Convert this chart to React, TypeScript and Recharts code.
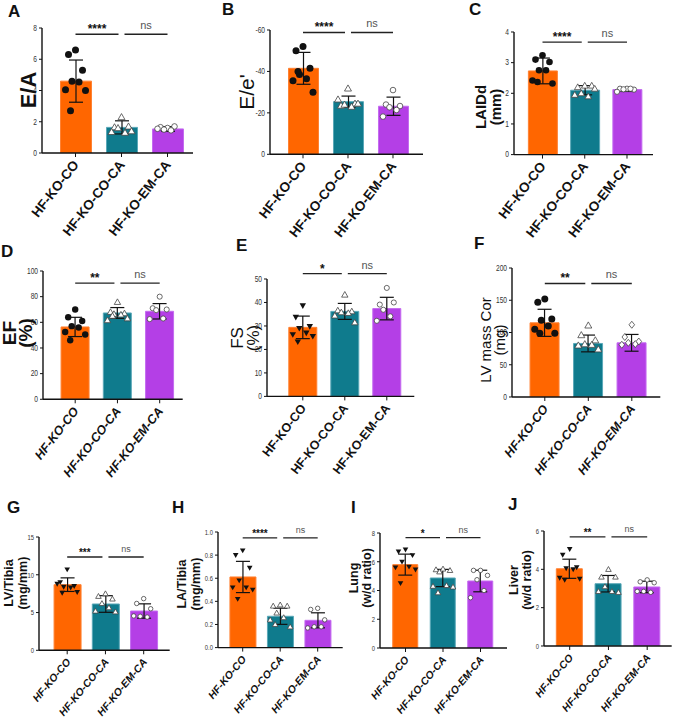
import React from 'react'
import { ComposedChart, Bar, Cell, Scatter, XAxis, YAxis, ErrorBar, ReferenceLine } from 'recharts'

const groups = ['HF-KO-CO', 'HF-KO-CO-CA', 'HF-KO-EM-CA']
const groupFill = ['#FF6600', '#0F7B8D', '#B43FE6']
const groupEdge = ['#FF8233', '#5AA8B8', '#C46BF0']

// A  E/A
const eaMean = [4.6, 1.64, 1.54]
const eaSd = [1.35, 0.42, 0.15]
const eaCo = [6.6, 6.3, 5.3, 4.6, 4.55, 4.05, 4.0, 2.7]
const eaCoCa = [2.3, 1.65, 1.7, 1.6, 1.3, 1.35, 1.4]
const eaEmCa = [1.6, 1.65, 1.7, 1.5, 1.45, 1.55]
const eaTicks = [0, 2, 4, 6, 8]

// B  E/e'
const eeMean = [-41.5, -25.4, -23.2]
const eeSd = [7.7, 2.7, 4.4]
const eeCo = [-52, -50, -41.5, -38.5, -36.5, -35.5, -30, -40]
const eeCoCa = [-31.8, -23.5, -24.5, -24, -23, -26.5, -24.5]
const eeEmCa = [-31, -24, -23.3, -22.7, -21.4, -18.2]
const eeTicks = [-60, -40, -20, 0]

// C  LAIDd
const laiMean = [2.73, 2.1, 2.12]
const laiSd = [0.42, 0.15, 0.06]
const laiCo = [3.24, 3.1, 3.02, 2.75, 2.75, 2.42, 2.32, 2.37]
const laiCoCa = [2.25, 2.2, 2.25, 2.0, 1.9, 1.95, 2.15]
const laiEmCa = [2.15, 2.15, 2.12, 2.13, 2.15, 2.05]
const laiTicks = [0, 1, 2, 3, 4]

// D  EF
const efMean = [56.4, 67.3, 68.6]
const efSd = [7.5, 4.2, 6.0]
const efCo = [70, 64, 61, 57, 56, 52.5, 50.5, 46]
const efCoCa = [75.8, 68, 67, 66.5, 66, 61.6, 63, 65]
const efEmCa = [80, 71, 70, 69.5, 63, 62.5]
const efTicks = [0, 20, 40, 60, 80, 100]

// E  FS
const fsMean = [29.4, 36.2, 37.4]
const fsSd = [4.8, 3.4, 4.8]
const fsCo = [38.6, 33.7, 29.8, 29, 27, 26.3, 25.6, 23.2]
const fsCoCa = [43.3, 36.6, 36.2, 35.8, 35.5, 34.4, 31.5]
const fsEmCa = [46.2, 39.1, 40, 36.9, 34.1, 32.2]
const fsTicks = [0, 10, 20, 30, 40, 50]

// F  LV mass Cor
const lvmMean = [115, 83, 84]
const lvmSd = [21, 13, 13]
const lvmCo = [152, 147, 121, 119, 110, 105, 99, 99]
const lvmCoCa = [111, 96, 88, 82, 81, 80, 74]
const lvmEmCa = [112, 93, 86, 84, 82, 81]
const lvmTicks = [0, 50, 100, 150, 200]

// G  LV/Tibia
const lvtMean = [8.69, 6.13, 5.2]
const lvtSd = [0.9, 1.1, 0.95]
const lvtCo = [10.7, 9.0, 8.5, 8.4, 8.3, 8.8, 7.7, 7.6]
const lvtCoCa = [7.5, 7.15, 6.8, 6.2, 5.65, 5.2, 5.1]
const lvtEmCa = [6.84, 6.2, 5.5, 4.5, 4.4, 4.55]
const lvtTicks = [0, 5, 10, 15]

// H  LA/Tibia
const latMean = [0.611, 0.271, 0.236]
const latSd = [0.135, 0.07, 0.065]
const latCo = [0.84, 0.8, 0.69, 0.58, 0.52, 0.52, 0.5, 0.42]
const latCoCa = [0.37, 0.36, 0.36, 0.3, 0.26, 0.24, 0.18, 0.2]
const latEmCa = [0.34, 0.33, 0.24, 0.18, 0.18, 0.17]
const latTicks = [0, 0.2, 0.4, 0.6, 0.8, 1.0]

// I  Lung
const lungMean = [5.8, 4.87, 4.66]
const lungSd = [0.73, 0.6, 0.75]
const lungCo = [6.84, 6.7, 6.45, 6.0, 5.65, 5.6, 5.45, 4.5]
const lungCoCa = [5.5, 5.45, 5.4, 5.3, 4.35, 4.3, 4.25, 3.85]
const lungEmCa = [5.4, 5.4, 5.05, 4.75, 4.0, 3.5]
const lungTicks = [0, 2, 4, 6, 8]

// J  Liver
const livMean = [4.03, 3.25, 3.08]
const livSd = [0.5, 0.43, 0.3]
const livCo = [5.05, 4.75, 4.1, 4.05, 4.0, 3.55, 3.5, 3.45]
const livCoCa = [4.0, 3.6, 3.6, 3.1, 2.85, 2.85, 2.8]
const livEmCa = [3.45, 3.35, 3.3, 2.85, 2.8, 2.85]
const livTicks = [0, 2, 4, 6]

const SANS = '"Liberation Sans", Arial, sans-serif'
const Y_W = 60
const TOP = 30
const X_H = 95
// horizontal spread of dots, px
const spread = [0, -7, 7, -3.5, 3.5, -10, 10, -5, 5]

type Spec = {
  axisX: number; xEnd: number; topY: number; zeroY: number
  centers: number[]; barW: number
  mean: number[]; sd: number[]; pts: number[][]
  ticks: number[]; yMin: number; yMax: number; reversed?: boolean
  sigY: number; sig: string[]
  coMark: 'circle' | 'tri'; emMark?: 'circle' | 'diamond'
  xfs: number; italic: boolean; yfs: number; sigFs: number; dot: number; angle: number
  fmt?: (v: number) => string
}

const panels: Spec[] = [
  { axisX: 42, xEnd: 193, topY: 28.3, zeroY: 153.3, centers: [75.5, 121.5, 167.5], barW: 31,
    mean: eaMean, sd: eaSd, pts: [eaCo, eaCoCa, eaEmCa], ticks: eaTicks, yMin: 0, yMax: 8,
    sigY: 7.6, sig: ['****', 'ns'], coMark: 'circle', xfs: 13.5, italic: false, yfs: 8.5, sigFs: 12, dot: 3.5, angle: -52 },
  { axisX: 270, xEnd: 423, topY: 30, zeroY: 154.3, centers: [303, 348, 393], barW: 30,
    mean: eeMean, sd: eeSd, pts: [eeCo, eeCoCa, eeEmCa], ticks: eeTicks, yMin: -60, yMax: 0, reversed: true,
    sigY: -58.8, sig: ['****', 'ns'], coMark: 'circle', xfs: 13.5, italic: false, yfs: 8.5, sigFs: 12, dot: 3.5, angle: -52 },
  { axisX: 514, xEnd: 653, topY: 31.7, zeroY: 154.3, centers: [542.5, 584.5, 627], barW: 29,
    mean: laiMean, sd: laiSd, pts: [laiCo, laiCoCa, laiEmCa], ticks: laiTicks, yMin: 0, yMax: 4,
    sigY: 3.67, sig: ['****', 'ns'], coMark: 'circle', xfs: 13.5, italic: false, yfs: 8.5, sigFs: 12, dot: 3.3, angle: -52 },
  { axisX: 43.3, xEnd: 183, topY: 270.7, zeroY: 399, centers: [75.5, 118, 160], barW: 28,
    mean: efMean, sd: efSd, pts: [efCo, efCoCa, efEmCa], ticks: efTicks, yMin: 0, yMax: 100,
    sigY: 90.6, sig: ['**', 'ns'], coMark: 'circle', xfs: 12.5, italic: true, yfs: 8.5, sigFs: 12, dot: 3.2, angle: -52 },
  { axisX: 266.7, xEnd: 414, topY: 279.3, zeroY: 396.7, centers: [302.5, 344.5, 386.5], barW: 28,
    mean: fsMean, sd: fsSd, pts: [fsCo, fsCoCa, fsEmCa], ticks: fsTicks, yMin: 0, yMax: 50,
    sigY: 52.3, sig: ['*', 'ns'], coMark: 'tri', xfs: 12.5, italic: false, yfs: 8.5, sigFs: 12, dot: 3.2, angle: -52 },
  { axisX: 511.7, xEnd: 660, topY: 267.7, zeroY: 396.7, centers: [544.5, 587.5, 631.5], barW: 29,
    mean: lvmMean, sd: lvmSd, pts: [lvmCo, lvmCoCa, lvmEmCa], ticks: lvmTicks, yMin: 0, yMax: 200,
    sigY: 176, sig: ['**', 'ns'], coMark: 'circle', emMark: 'diamond', xfs: 12.5, italic: true, yfs: 8.5, sigFs: 12, dot: 3.5, angle: -52 },
  { axisX: 39.3, xEnd: 170, topY: 536.7, zeroY: 650, centers: [67.5, 106, 144], barW: 27,
    mean: lvtMean, sd: lvtSd, pts: [lvtCo, lvtCoCa, lvtEmCa], ticks: lvtTicks, yMin: 0, yMax: 15,
    sigY: 12.35, sig: ['***', 'ns'], coMark: 'tri', xfs: 10.5, italic: true, yfs: 7.5, sigFs: 10, dot: 2.8, angle: -50 },
  { axisX: 218.3, xEnd: 343, topY: 531.7, zeroY: 647.3, centers: [243, 280.5, 318], barW: 26,
    mean: latMean, sd: latSd, pts: [latCo, latCoCa, latEmCa], ticks: latTicks, yMin: 0, yMax: 1,
    sigY: 0.95, sig: ['****', 'ns'], coMark: 'tri', xfs: 10.5, italic: true, yfs: 7.5, sigFs: 10, dot: 2.8, angle: -50,
    fmt: (v) => v.toFixed(1) },
  { axisX: 380, xEnd: 507, topY: 532.7, zeroY: 647.7, centers: [405.5, 443.5, 480.5], barW: 25,
    mean: lungMean, sd: lungSd, pts: [lungCo, lungCoCa, lungEmCa], ticks: lungTicks, yMin: 0, yMax: 8,
    sigY: 7.68, sig: ['*', 'ns'], coMark: 'tri', xfs: 10.5, italic: true, yfs: 7.5, sigFs: 10, dot: 2.8, angle: -50 },
  { axisX: 544.3, xEnd: 672, topY: 530.7, zeroY: 645.7, centers: [570, 609, 647.5], barW: 26,
    mean: livMean, sd: livSd, pts: [livCo, livCoCa, livEmCa], ticks: livTicks, yMin: 0, yMax: 6,
    sigY: 5.69, sig: ['**', 'ns'], coMark: 'tri', xfs: 10.5, italic: true, yfs: 7.5, sigFs: 10, dot: 2.8, angle: -50 },
]

const letters = [
  { t: 'A', x: 8, y: 17 }, { t: 'B', x: 222, y: 15 }, { t: 'C', x: 469, y: 15 },
  { t: 'D', x: 1, y: 257 }, { t: 'E', x: 236, y: 251 }, { t: 'F', x: 474, y: 249 },
  { t: 'G', x: 7, y: 513 }, { t: 'H', x: 172, y: 513 }, { t: 'I', x: 351, y: 513 }, { t: 'J', x: 508, y: 510 },
]

const yLabels = [
  { lines: [{ t: 'E/A', x: 28 }], y: 90, fs: 22, fw: 700 },
  { lines: [{ t: "E/e'", x: 246 }], y: 92, fs: 21, fw: 400 },
  { lines: [{ t: 'LAIDd', x: 480 }, { t: '(mm)', x: 495 }], y: 107, fs: 15, fw: 700 },
  { lines: [{ t: 'EF', x: 9 }, { t: '(%)', x: 25 }], y: 333, fs: 19, fw: 700 },
  { lines: [{ t: 'FS', x: 237 }, { t: '(%)', x: 253 }], y: 338, fs: 17, fw: 400 },
  { lines: [{ t: 'LV mass Cor', x: 485 }, { t: '(mg)', x: 499 }], y: 340, fs: 15, fw: 400 },
  { lines: [{ t: 'LV/Tibia', x: 9 }, { t: '(mg/mm)', x: 23 }], y: 583, fs: 12.5, fw: 700 },
  { lines: [{ t: 'LA/Tibia', x: 182 }, { t: '(mg/mm)', x: 196 }], y: 584, fs: 12.5, fw: 700 },
  { lines: [{ t: 'Lung', x: 354 }, { t: '(w/d ratio)', x: 367 }], y: 578, fs: 12.5, fw: 700 },
  { lines: [{ t: 'Liver', x: 514 }, { t: '(w/d ratio)', x: 527 }], y: 580, fs: 12.5, fw: 700 },
]

const marker = (g: number, p: Spec) => (sp: any) => {
  const { cx, cy } = sp
  const r = p.dot
  if (g === 0) {
    if (p.coMark === 'tri') {
      return <path d={`M${cx - r},${cy - r * 0.75}L${cx + r},${cy - r * 0.75}L${cx},${cy + r}Z`} fill="#111" />
    }
    return <circle cx={cx} cy={cy} r={r} fill="#111" />
  }
  if (g === 1) {
    return <path d={`M${cx},${cy - r}L${cx + r},${cy + r * 0.75}L${cx - r},${cy + r * 0.75}Z`} fill="#fff" stroke="#444" strokeWidth={0.8} />
  }
  if (p.emMark === 'diamond') {
    return <path d={`M${cx},${cy - r}L${cx + r * 0.8},${cy}L${cx},${cy + r}L${cx - r * 0.8},${cy}Z`} fill="#fff" stroke="#444" strokeWidth={0.8} />
  }
  return <circle cx={cx} cy={cy} r={r * 0.8} fill="#fff" stroke="#444" strokeWidth={0.8} />
}

const bracket = (label: string, side: number, fs: number) => (lp: any) => {
  const x1 = lp.x1 + (side === 1 ? 3 : 0)
  const x2 = lp.x2 - (side === 0 ? 3 : 0)
  const ns = label === 'ns'
  return (
    <g>
      <line x1={x1} y1={lp.y1} x2={x2} y2={lp.y2} stroke="#222" strokeWidth={1.3} />
      <text x={(x1 + x2) / 2} y={lp.y1 - (ns ? 5 : 1)} textAnchor="middle" fontFamily={SANS}
        fontSize={ns ? fs - 1 : fs} fontWeight={ns ? 400 : 700} fill={ns ? '#555' : '#111'}>{label}</text>
    </g>
  )
}

function Panel({ p }: { p: Spec }) {
  const plotW = p.xEnd - p.axisX
  const plotH = p.zeroY - p.topY
  const s = (p.centers[2] - p.centers[0]) / 2
  const xMin = -(p.centers[0] - p.axisX) / s
  const xMax = 2 + (p.xEnd - p.centers[2]) / s
  const barData = groups.map((g, i) => ({ x: i, name: g, mean: p.mean[i], sd: p.sd[i] }))

  return (
    <div style={{ position: 'absolute', left: p.axisX - Y_W, top: p.topY - TOP }}>
      <ComposedChart width={Y_W + plotW + 4} height={TOP + plotH + X_H} data={barData}
        margin={{ top: TOP, right: 4, bottom: 0, left: 0 }}>
        <XAxis type="number" dataKey="x" domain={[xMin, xMax]} ticks={[0, 1, 2]} allowDataOverflow
          interval={0} height={X_H} axisLine={{ stroke: '#111', strokeWidth: 1.4 }}
          tickLine={{ stroke: '#111' }} tickSize={4} tickMargin={0}
          tick={(tp: any) => (
            <text transform={`translate(${tp.x + 4},${tp.y + 8}) rotate(${p.angle})`} textAnchor="end"
              fontFamily={SANS} fontSize={p.xfs} fontWeight={700} fontStyle={p.italic ? 'italic' : 'normal'}
              fill="#111">{groups[tp.payload.value]}</text>
          )} />
        <XAxis xAxisId="dots" type="number" dataKey="x" domain={[xMin, xMax]} allowDataOverflow hide height={0} />
        <YAxis type="number" domain={[p.yMin, p.yMax]} ticks={p.ticks} reversed={p.reversed} allowDataOverflow
          interval={0} width={Y_W} axisLine={{ stroke: '#111', strokeWidth: 1.4 }} tickLine={{ stroke: '#111' }}
          tickSize={3} tickMargin={2}
          tick={(tp: any) => (
            <text transform={`translate(${tp.x},${tp.y}) scale(0.78,1)`} textAnchor="end" dominantBaseline="central"
              fontFamily={SANS} fontSize={p.yfs} fill="#333">
              {p.fmt ? p.fmt(tp.payload.value) : String(tp.payload.value)}
            </text>
          )} />
        <Bar dataKey="mean" barSize={p.barW} isAnimationActive={false}>
          {barData.map((d, i) => <Cell key={d.name} fill={groupFill[i]} stroke={groupEdge[i]} strokeWidth={1} />)}
          <ErrorBar dataKey="sd" width={7} stroke="#111" strokeWidth={1.2} direction="y" />
        </Bar>
        {p.pts.map((vals, g) => (
          <Scatter key={groups[g]} xAxisId="dots" dataKey="y" isAnimationActive={false} shape={marker(g, p)}
            data={vals.map((v, i) => ({ x: g + spread[i % spread.length] / s, y: v }))} />
        ))}
        <ReferenceLine segment={[{ x: 0, y: p.sigY }, { x: 1, y: p.sigY }]} ifOverflow="visible"
          shape={bracket(p.sig[0], 0, p.sigFs)} />
        <ReferenceLine segment={[{ x: 1, y: p.sigY }, { x: 2, y: p.sigY }]} ifOverflow="visible"
          shape={bracket(p.sig[1], 1, p.sigFs)} />
      </ComposedChart>
    </div>
  )
}

export default function App() {
  return (
    <div style={{ position: 'absolute', left: 0, top: 0, width: 675, height: 728, overflow: 'hidden', background: '#fff' }}>
      {panels.map((p, i) => <Panel key={i} p={p} />)}
      <svg width={675} height={728} style={{ position: 'absolute', left: 0, top: 0, pointerEvents: 'none' }}>
        {letters.map((l) => (
          <text key={l.t} x={l.x} y={l.y} fontFamily={SANS} fontSize={17} fontWeight={700} fill="#111">{l.t}</text>
        ))}
        {yLabels.map((yl, k) => yl.lines.map((ln) => (
          <text key={k + ln.t} transform={`translate(${ln.x},${yl.y}) rotate(-90)`} textAnchor="middle"
            dominantBaseline="central" fontFamily={SANS} fontSize={yl.fs} fontWeight={yl.fw} fill="#111">{ln.t}</text>
        )))}
      </svg>
    </div>
  )
}
